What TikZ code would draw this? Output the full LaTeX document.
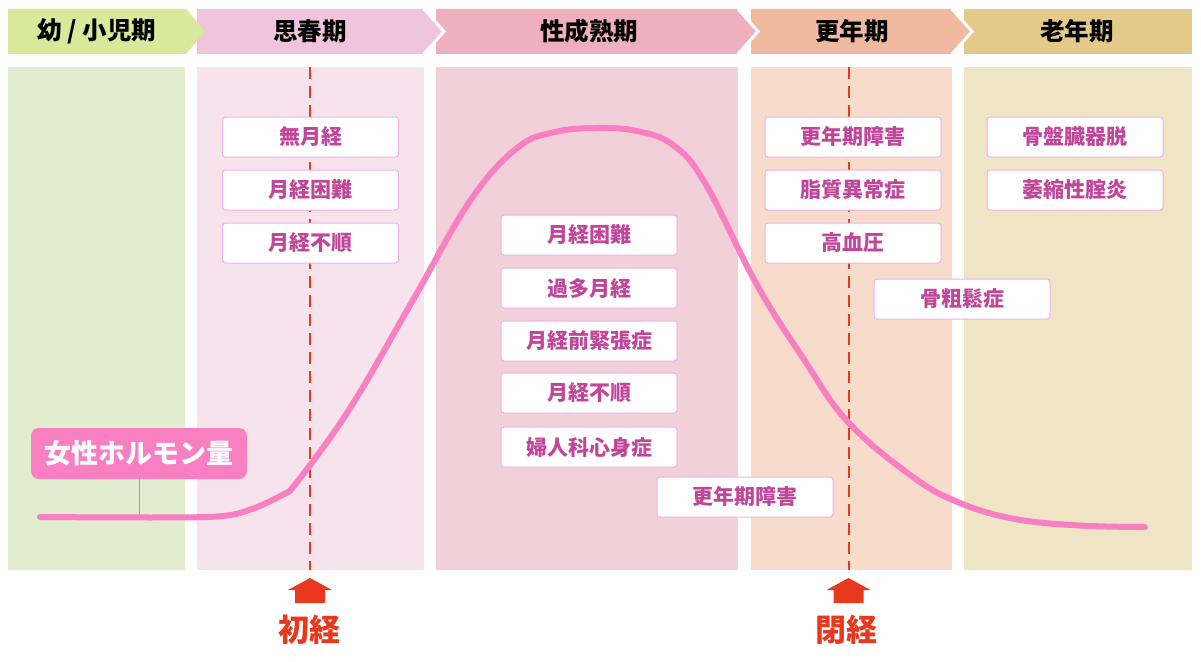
\documentclass[tikz,border=0pt]{standalone}
\usepackage{fontspec}
\setmainfont{Noto Sans CJK JP}
\definecolor{cAh}{HTML}{D9E89A}
\definecolor{cAb}{HTML}{E2ECCE}
\definecolor{cBh}{HTML}{F0C4DC}
\definecolor{cBb}{HTML}{F6E3EB}
\definecolor{cCh}{HTML}{EEB0BC}
\definecolor{cCb}{HTML}{F2D0D9}
\definecolor{cDh}{HTML}{F0B9A0}
\definecolor{cDb}{HTML}{F7DCCB}
\definecolor{cEh}{HTML}{E3CA88}
\definecolor{cEb}{HTML}{EFE4C3}
\definecolor{boxline}{HTML}{F0B0E8}
\definecolor{symtext}{HTML}{C1469A}
\definecolor{hormone}{HTML}{F77FC2}
\definecolor{redc}{HTML}{E8391F}
\begin{document}
\begin{tikzpicture}[x=1pt,y=-1pt,
  hdtext/.style={font=\fontsize{24.5}{24.5}\selectfont\bfseries, text=black, inner sep=0pt},
  symbox/.style={draw=boxline, line width=1pt, fill=white, rounded corners=3pt,
    minimum width=176pt, minimum height=40pt, inner sep=0pt,
    font=\fontsize{21}{21}\selectfont\bfseries, text=symtext},
  tipline/.style={white, line width=3pt, line join=miter},
  reddash/.style={redc, line width=2pt, dash pattern=on 12pt off 7pt},
  curveline/.style={hormone, line width=6pt, line cap=round, line join=round},
  upmark/.style={fill=redc},
  marktext/.style={font=\fontsize{31}{31}\selectfont\bfseries, text=redc, inner sep=0pt},
  lblbox/.style={fill=hormone, rounded corners=8pt, minimum width=216pt, minimum height=51pt,
    inner sep=0pt, font=\fontsize{27}{27}\selectfont\bfseries, text=white}
]
\useasboundingbox (0,0) rectangle (1201,661);
\fill[white] (0,0) rectangle (1201,661);
% body panels
\fill[cAb] (8,67) rectangle (185,570);
\fill[cBb] (197,67) rectangle (424,570);
\fill[cCb] (436,67) rectangle (738,570);
\fill[cDb] (751,67) rectangle (952,570);
\fill[cEb] (964,67) rectangle (1192,570);
% header chevrons (right to left)
\fill[cEh] (964,9) rectangle (1192,54);
\fill[cDh] (751,9) -- (952,9) -- (972,31.5) -- (952,54) -- (751,54) -- cycle;
\draw[tipline] (952,9) -- (972,31.5) -- (952,54);
\fill[cCh] (436,9) -- (738,9) -- (758,31.5) -- (738,54) -- (436,54) -- cycle;
\draw[tipline] (738,9) -- (758,31.5) -- (738,54);
\fill[cBh] (197,9) -- (424,9) -- (444,31.5) -- (424,54) -- (197,54) -- cycle;
\draw[tipline] (424,9) -- (444,31.5) -- (424,54);
\fill[cAh] (8,9) -- (186,9) -- (205,31.5) -- (186,54) -- (8,54) -- cycle;
% header texts
\node[hdtext] (h1) at (97,31.5) {幼 / 小児期};
\node[hdtext] (h2) at (310,31.5) {思春期};
\node[hdtext] (h3) at (589,31.5) {性成熟期};
\node[hdtext] (h4) at (852,31.5) {更年期};
\node[hdtext] (h5) at (1077,31.5) {老年期};
% dashed lines
\coordinate (d1t) at (310,67); \coordinate (d1b) at (310,570);
\coordinate (d2t) at (848.5,67); \coordinate (d2b) at (848.5,570);
\draw[reddash] (d1t) -- (d1b);
\draw[reddash] (d2t) -- (d2b);
% hormone curve
\draw[curveline] plot[smooth, tension=0.5] coordinates {(40,517) (207,517) (252,509) (290,491)}
  -- plot[smooth, tension=0.65] coordinates {(290,491) (347,413) (413,300) (470,201) (517,148) (555,132) (597,128) (637,131) (673,145) (705,183) (757,285) (803,358) (848,422) (913,477) (960,503) (1015,519) (1080,525.5) (1145,527)};
% hormone label
\node[lblbox] (lbl) at (139,453.5) {女性ホルモン量};
\coordinate (lbltip) at (139,515);
\draw[hormone!80!gray, line width=0.8pt] (lbl.south) -- (lbltip);
% symptom boxes
\node[symbox] (p1) at (310.5,137) {無月経};
\node[symbox] (p2) at (310.5,190) {月経困難};
\node[symbox] (p3) at (310.5,243) {月経不順};
\node[symbox] (m1) at (589,235) {月経困難};
\node[symbox] (m2) at (589,288) {過多月経};
\node[symbox] (m3) at (589,341) {月経前緊張症};
\node[symbox] (m4) at (589,393) {月経不順};
\node[symbox] (m5) at (589,447) {婦人科心身症};
\node[symbox] (m6) at (745,497) {更年期障害};
\node[symbox] (k1) at (853,137) {更年期障害};
\node[symbox] (k2) at (853,190) {脂質異常症};
\node[symbox] (k3) at (853,243) {高血圧};
\node[symbox] (k4) at (962,299) {骨粗鬆症};
\node[symbox] (o1) at (1075,137) {骨盤臓器脱};
\node[symbox] (o2) at (1075,190) {萎縮性腟炎};
% up arrows
\fill[upmark] (288,590) -- (310,578) -- (332,590) -- (325,590) -- (325,603) -- (295,603) -- (295,590) -- cycle;
\fill[upmark] (826.5,590) -- (848.5,578) -- (870.5,590) -- (863.5,590) -- (863.5,603) -- (833.5,603) -- (833.5,590) -- cycle;
\node[marktext] (t1) at (309,630) {初経};
\node[marktext] (t2) at (846,630) {閉経};
\end{tikzpicture}
\end{document}
